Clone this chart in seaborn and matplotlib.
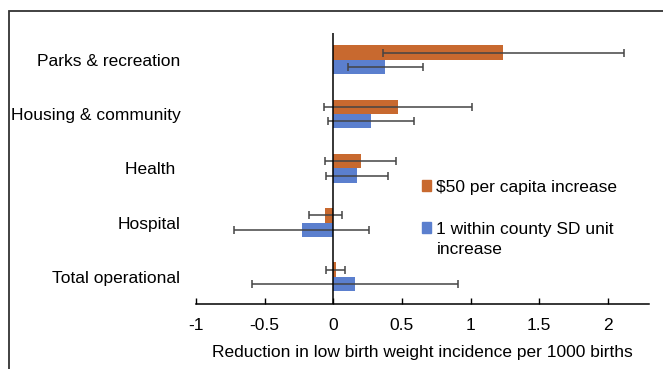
import matplotlib
matplotlib.use("Agg")
import matplotlib.pyplot as plt
import matplotlib.patches as mpatches
import numpy as np
import pandas as pd
import seaborn as sns

categories = ["Parks & recreation", "Housing & community", "Health ", "Hospital", "Total operational"]
series = ["$50 per capita increase", "1 within county SD unit\nincrease"]
per_capita = [1.24, 0.47, 0.20, -0.057, 0.018]
per_capita_err = [0.88, 0.54, 0.26, 0.12, 0.07]
sd_unit = [0.38, 0.275, 0.173, -0.23, 0.158]
sd_unit_err = [0.27, 0.31, 0.225, 0.49, 0.752]
x_ticks = [-1, -0.5, 0, 0.5, 1, 1.5, 2]

colors = ["#C8692F", "#5B7FCE"]

df = pd.DataFrame({
    "category": categories * 2,
    "series": [series[0]] * 5 + [series[1]] * 5,
    "value": per_capita + sd_unit,
    "err": per_capita_err + sd_unit_err,
})

sns.set_style("white")
plt.rcParams["font.family"] = ["Liberation Sans", "DejaVu Sans"]
plt.rcParams["text.color"] = "black"
plt.rcParams["axes.labelcolor"] = "black"
plt.rcParams["xtick.color"] = "black"
plt.rcParams["ytick.color"] = "black"

fig = plt.figure(figsize=(6.63, 3.69), dpi=100)
ax = fig.add_axes([196 / 663, 1 - 304 / 369, (649 - 196) / 663, (304 - 32.7) / 369])

sns.barplot(
    data=df, x="value", y="category", hue="series",
    order=categories, hue_order=series, palette=colors,
    orient="h", width=0.53, errorbar=None, ax=ax,
    edgecolor="none", saturation=1,
)

# error bars at the bar centres
for cont, (vals, errs) in zip(ax.containers, [(per_capita, per_capita_err), (sd_unit, sd_unit_err)]):
    ys = [p.get_y() + p.get_height() / 2 for p in cont.patches]
    ax.errorbar(vals, ys, xerr=errs, fmt="none", ecolor="#444444",
                elinewidth=1.1, capsize=3, capthick=1.1, zorder=3)

ax.axvline(0, color="black", linewidth=1.1, zorder=4)
ax.set_xlim(-1, 2.3)
ax.set_ylim(4.5, -0.5)
ax.set_xticks(x_ticks)
ax.set_xticklabels([f"{t:g}" for t in x_ticks])
ax.tick_params(axis="x", direction="in", length=4, width=1, color="black",
               labelsize=12.5, pad=10, bottom=True)
ax.tick_params(axis="y", length=0, labelsize=12.5, pad=11.2)
for s in ["left", "right", "top"]:
    ax.spines[s].set_visible(False)
ax.spines["bottom"].set_color("black")
ax.spines["bottom"].set_linewidth(1.1)
ax.set_ylabel("")
ax.set_xlabel("Reduction in low birth weight incidence per 1000 births", fontsize=12.5, labelpad=8.5)

# legend: handle sits on the first line of the wrapped label
handles = [mpatches.Patch(color=c) for c in colors]
leg = ax.legend(handles, [series[0].replace("$", r"\$"), series[1].split("\n")[0]],
                loc="upper left", bbox_to_anchor=(413 / 663, 1 - 171 / 369),
                bbox_transform=fig.transFigure, frameon=False, fontsize=12.5,
                handlelength=0.55, handleheight=0.55, handletextpad=0.3,
                labelspacing=1.55, borderpad=0)
fig.canvas.draw()
bb = leg.get_texts()[1].get_window_extent().transformed(fig.transFigure.inverted())
fig.text(bb.x0, bb.y0 - 20 / 369, series[1].split("\n")[1], fontsize=12.5,
         ha="left", va="bottom")

fig.patches.append(mpatches.Rectangle(
    (8.5 / 663, -0.05), 1.1, 1 - 11 / 369 + 0.05, transform=fig.transFigure,
    fill=False, edgecolor="#333333", linewidth=1.3))

fig.savefig("out.png", dpi=100)
